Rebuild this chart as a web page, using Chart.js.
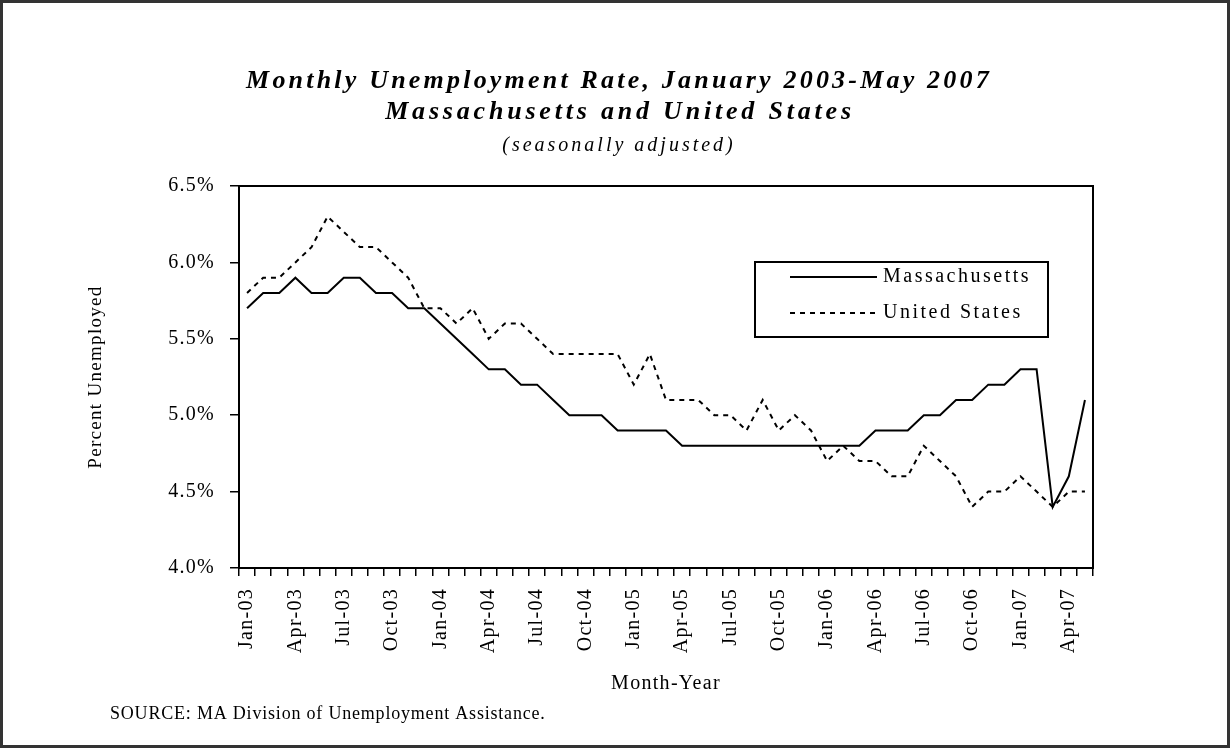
<!DOCTYPE html>
<html>
<head>
<meta charset="utf-8">
<title>Monthly Unemployment Rate</title>
<script src="https://cdn.jsdelivr.net/npm/chart.js@4.4.1/dist/chart.umd.min.js"></script>
<style>
    html, body { margin: 0; padding: 0; background: #fff; }
    #wrap { width: 1230px; height: 748px; }
</style>
</head>
<body>
<div id="wrap"><canvas id="unempChart" width="1230" height="748"></canvas></div>
<script>
// month labels, Jan 2003 .. May 2007
const months = [
    'Jan-03','Feb-03','Mar-03','Apr-03','May-03','Jun-03','Jul-03','Aug-03','Sep-03','Oct-03','Nov-03','Dec-03',
    'Jan-04','Feb-04','Mar-04','Apr-04','May-04','Jun-04','Jul-04','Aug-04','Sep-04','Oct-04','Nov-04','Dec-04',
    'Jan-05','Feb-05','Mar-05','Apr-05','May-05','Jun-05','Jul-05','Aug-05','Sep-05','Oct-05','Nov-05','Dec-05',
    'Jan-06','Feb-06','Mar-06','Apr-06','May-06','Jun-06','Jul-06','Aug-06','Sep-06','Oct-06','Nov-06','Dec-06',
    'Jan-07','Feb-07','Mar-07','Apr-07','May-07'
];

// percent unemployed, seasonally adjusted
const maRate = [
    5.7, 5.8, 5.8, 5.9, 5.8, 5.8, 5.9, 5.9, 5.8, 5.8, 5.7, 5.7,
    5.6, 5.5, 5.4, 5.3, 5.3, 5.2, 5.2, 5.1, 5.0, 5.0, 5.0, 4.9,
    4.9, 4.9, 4.9, 4.8, 4.8, 4.8, 4.8, 4.8, 4.8, 4.8, 4.8, 4.8,
    4.8, 4.8, 4.8, 4.9, 4.9, 4.9, 5.0, 5.0, 5.1, 5.1, 5.2, 5.2,
    5.3, 5.3, 4.4, 4.6, 5.1
];
const usRate = [
    5.8, 5.9, 5.9, 6.0, 6.1, 6.3, 6.2, 6.1, 6.1, 6.0, 5.9, 5.7,
    5.7, 5.6, 5.7, 5.5, 5.6, 5.6, 5.5, 5.4, 5.4, 5.4, 5.4, 5.4,
    5.2, 5.4, 5.1, 5.1, 5.1, 5.0, 5.0, 4.9, 5.1, 4.9, 5.0, 4.9,
    4.7, 4.8, 4.7, 4.7, 4.6, 4.6, 4.8, 4.7, 4.6, 4.4, 4.5, 4.5,
    4.6, 4.5, 4.4, 4.5, 4.5
];

const yTicks = [4.0, 4.5, 5.0, 5.5, 6.0, 6.5];

const titleLines = ['Monthly Unemployment Rate, January 2003-May 2007', 'Massachusetts and United States'];
const subTitle = '(seasonally adjusted)';
const sourceNote = 'SOURCE: MA Division of Unemployment Assistance.';

const SERIF = '"Liberation Serif", "Times New Roman", serif';

window.onload = function () {
    const canvas = document.getElementById('unempChart');

    // titles, frames, legend and source line
    const decor = {
        id: 'decor',
        beforeLayout(chart) { chart.ctx.letterSpacing = '1.3px'; },
        beforeDraw(chart) {
            const ctx = chart.ctx;
            ctx.save();
            ctx.fillStyle = '#fff';
            ctx.fillRect(0, 0, chart.width, chart.height);
            ctx.restore();
            ctx.letterSpacing = '1.3px';
        },
        afterDraw(chart) {
            const ctx = chart.ctx;
            const a = chart.chartArea;
            ctx.save();

            // outer frame
            ctx.strokeStyle = '#333';
            ctx.lineWidth = 3;
            ctx.strokeRect(1.5, 1.5, 1227, 745);

            // plot area box
            ctx.strokeStyle = '#000';
            ctx.lineWidth = 2;
            ctx.strokeRect(a.left, a.top, a.right - a.left, a.bottom - a.top);

            // titles
            ctx.fillStyle = '#000';
            ctx.textAlign = 'center';
            ctx.textBaseline = 'alphabetic';
            ctx.font = 'italic bold 26px ' + SERIF;
            ctx.letterSpacing = '3.2px';
            ctx.fillText(titleLines[0], 619, 88);
            ctx.letterSpacing = '3.8px';
            ctx.fillText(titleLines[1], 620, 119);
            ctx.letterSpacing = '3px';
            ctx.font = 'italic 20px ' + SERIF;
            ctx.fillText(subTitle, 619, 151);

            // source
            ctx.textAlign = 'left';
            ctx.letterSpacing = '0.8px';
            ctx.font = '18px ' + SERIF;
            ctx.fillText(sourceNote, 110, 719);

            // legend
            const lx = 755, ly = 262, lw = 293, lh = 75;
            ctx.lineWidth = 2;
            ctx.strokeRect(lx, ly, lw, lh);
            ctx.font = '20px ' + SERIF;
            ctx.letterSpacing = '2.5px';
            ctx.textBaseline = 'middle';
            chart.data.datasets.forEach((ds, i) => {
                const y = 277 + i * 36;
                ctx.beginPath();
                ctx.setLineDash(ds.borderDash || []);
                ctx.lineWidth = ds.borderWidth;
                ctx.strokeStyle = ds.borderColor;
                ctx.moveTo(790, y);
                ctx.lineTo(877, y);
                ctx.stroke();
                ctx.setLineDash([]);
                ctx.fillText(ds.label, 883, y);
            });

            ctx.restore();
        }
    };

    new Chart(canvas.getContext('2d'), {
        type: 'line',
        data: {
            labels: months,
            datasets: [
                {
                    label: 'Massachusetts',
                    data: maRate,
                    borderColor: '#000',
                    borderWidth: 2,
                    pointRadius: 0,
                    tension: 0,
                    fill: false
                },
                {
                    label: 'United States',
                    data: usRate,
                    borderColor: '#000',
                    borderWidth: 2,
                    borderDash: [5, 5],
                    pointRadius: 0,
                    tension: 0,
                    fill: false
                }
            ]
        },
        options: {
            responsive: false,
            animation: false,
            layout: { padding: { left: 75, top: 186, right: 137, bottom: 50 } },
            plugins: {
                legend: { display: false },
                title: { display: false },
                tooltip: { enabled: false }
            },
            scales: {
                x: {
                    offset: true,
                    grid: { offset: true, drawOnChartArea: false, tickLength: 8, color: '#000', lineWidth: 1.5 },
                    border: { color: '#000', width: 2 },
                    ticks: {
                        autoSkip: false,
                        minRotation: 90,
                        maxRotation: 90,
                        padding: 12,
                        color: '#000',
                        font: { family: SERIF, size: 20 },
                        callback: (v, i) => (i % 3 === 0 ? months[i] : '')
                    },
                    title: {
                        display: true,
                        text: 'Month-Year',
                        color: '#000',
                        font: { family: SERIF, size: 20 },
                        padding: { top: 0, bottom: 2 }
                    },
                    afterFit: (scale) => { scale.height = 130; }
                },
                y: {
                    min: yTicks[0],
                    max: yTicks[yTicks.length - 1],
                    afterBuildTicks: (scale) => { scale.ticks = yTicks.map(v => ({ value: v })); },
                    grid: { drawOnChartArea: false, tickLength: 9, color: '#000', lineWidth: 1.5 },
                    border: { color: '#000', width: 2 },
                    ticks: {
                        padding: 15,
                        color: '#000',
                        font: { family: SERIF, size: 20 },
                        callback: (v) => v.toFixed(1) + '%'
                    },
                    title: {
                        display: true,
                        text: 'Percent Unemployed',
                        color: '#000',
                        font: { family: SERIF, size: 19 },
                        padding: { top: 10, bottom: 0 }
                    },
                    afterFit: (scale) => { scale.width = 164; }
                }
            }
        },
        plugins: [decor]
    });
};
</script>
</body>
</html>
